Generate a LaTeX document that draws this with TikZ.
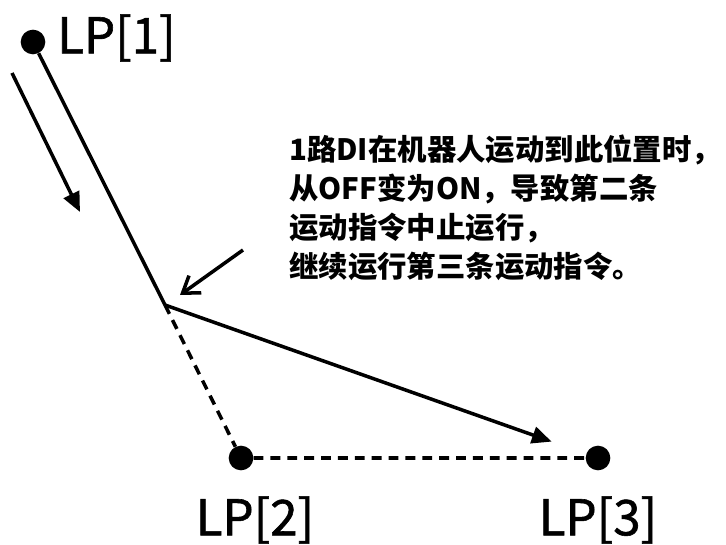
\documentclass[tikz,border=0pt]{standalone}
\usepackage{fontspec}
\newfontfamily\cjk{Noto Sans CJK SC}
\newfontfamily\cjklabel{Noto Sans CJK SC}[FakeBold=1.2]
\usetikzlibrary{arrows.meta}
\begin{document}
\begin{tikzpicture}[x=0.025cm,y=-0.025cm,
        point/.style={circle, fill=black, minimum size=17.5pt, inner sep=0pt},
        lplabel/.style={font=\cjklabel\fontsize{35}{40}\selectfont, inner sep=0pt},
        path/.style={line width=2.5pt},
        dashpath/.style={line width=2.5pt, dash pattern=on 7pt off 5pt},
        move/.style={line width=2.5pt, -{Triangle[length=14pt,width=12pt]}},
        hint/.style={line width=2.5pt, -{Straight Barb[length=11pt,width=15pt,line width=2.5pt]}}]
        \useasboundingbox (0,0) rectangle (726,545);

        \node[point] (lp1) at (33,42) {};
        \node[point] (lp2) at (241,458) {};
        \node[point] (lp3) at (598,458) {};
        \coordinate (corner) at (165,305);

        \node[lplabel, anchor=west] (l1) at (57,38) {LP[1]};
        \node[lplabel] (l2) at (255,520) {LP[2]};
        \node[lplabel] (l3) at (598,520) {LP[3]};

        \draw[path] (lp1)--(corner);
        \draw[dashpath] (corner)--(lp2)--(lp3);
        \draw[move, shorten >=26pt] (corner)--(lp3);

        \coordinate (a1) at (12,73);
        \coordinate (a2) at (80,212);
        \draw[move] (a1)--(a2);

        \coordinate (h1) at (243,250);
        \coordinate (h2) at (180,295);
        \draw[hint] (h1)--(h2);

        \node[font=\cjk\bfseries\fontsize{20.9}{27.6}\selectfont, align=left, anchor=north west, inner sep=0pt] (note) at (289,135)
            {1路DI在机器人运动到此位置时，\\从OFF变为ON，导致第二条\\运动指令中止运行，\\继续运行第三条运动指令。};
\end{tikzpicture}
\end{document}
